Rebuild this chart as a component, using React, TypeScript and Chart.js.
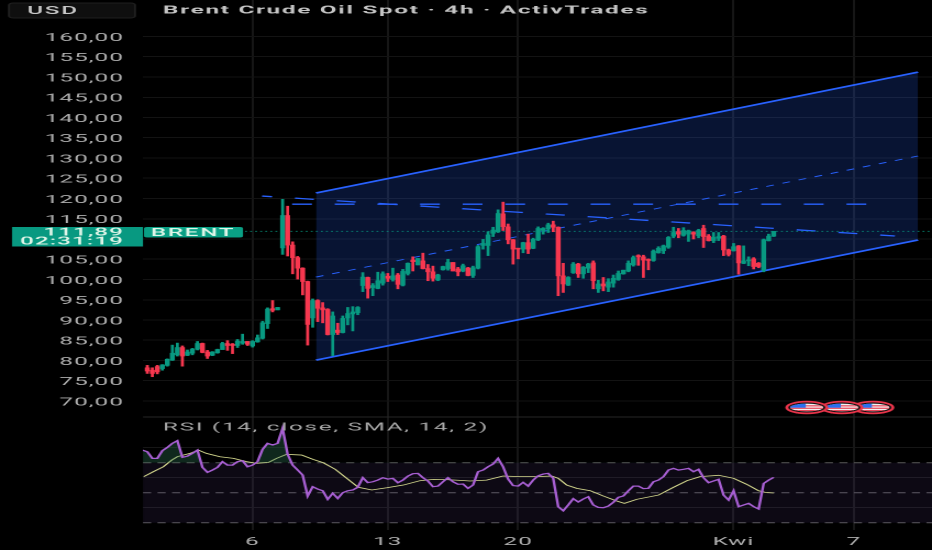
import React, { useEffect, useRef } from "react";
import { Chart, registerables } from "chart.js";

Chart.register(...registerables);

// --- candles (index = 4h bar number)
const candleOpen = [
  78.2,77.6,78.5,78.0,78.8,80.1,81.4,83.2,81.3,81.8,
  82.8,84.2,82.1,81.3,81.9,82.7,84.2,84.0,83.7,84.3,
  84.7,83.6,84.6,85.5,89.1,92.8,92.5,107.8,115.8,108.5,
  105.4,102.8,99.5,90.5,94.8,93.0,92.6,86.4,87.5,86.9,
  90.5,91.5,91.8,98.5,100.5,98.0,97.8,99.1,100.8,100.0,
  101.1,98.6,101.5,104.8,103.6,104.6,102.7,101.9,99.9,102.4,
  102.7,104.2,102.6,102.1,102.8,101.0,102.8,108.4,108.4,111.4,
  111.8,116.2,113.0,109.8,107.7,107.5,109.1,107.7,109.8,112.1,
  112.5,113.5,112.9,100.9,98.6,101.7,103.8,101.4,102.8,104.1,
  97.7,98.9,98.1,99.1,100.0,101.4,102.1,103.6,105.9,105.6,
  104.9,104.7,106.6,107.1,108.0,110.7,111.8,110.9,111.2,111.6,
  110.8,112.6,110.7,109.6,110.2,110.7,107.3,107.1,108.3,104.0,
  104.6,105.1,104.0,102.3,109.6,110.7,
];
const candleHigh = [
  78.8,78.2,78.8,79.0,80.4,83.8,84.3,83.6,82.6,83.0,
  84.7,84.3,82.5,82.2,82.8,84.5,84.9,84.2,85.2,86.5,
  84.7,84.9,86.3,89.7,93.0,94.8,93.1,119.8,118.1,109.3,
  105.7,102.9,99.6,95.2,95.0,94.3,92.8,92.0,89.2,91.0,
  93.1,93.3,93.3,101.7,100.6,99.0,101.8,101.9,101.5,102.8,
  101.5,102.5,104.1,105.6,105.2,106.5,103.7,103.3,101.3,103.3,
  105.0,104.2,103.0,103.8,103.0,103.3,108.4,109.9,111.8,112.9,
  117.2,119.1,113.7,109.9,107.7,109.2,111.2,110.2,113.0,112.8,
  113.9,114.4,113.0,104.0,100.7,104.2,104.0,103.2,104.0,104.6,
  99.8,100.5,100.2,101.1,102.1,102.3,104.6,105.8,106.1,106.0,
  105.1,107.3,108.1,108.5,110.6,112.9,112.6,112.8,112.2,111.8,
  112.4,113.4,111.1,111.6,111.6,110.9,107.5,108.9,108.4,108.3,
  105.6,105.4,104.2,110.0,111.2,111.9,
];
const candleLow = [
  76.8,76.0,76.7,77.6,78.6,80.0,81.1,78.6,81.2,81.4,
  82.6,81.9,80.5,81.2,81.8,82.7,82.5,81.7,83.2,84.0,
  83.7,83.3,84.5,85.3,87.9,92.0,92.5,106.2,105.8,101.4,
  100.1,96.2,83.8,88.2,89.6,89.3,86.3,81.2,86.4,86.8,
  88.8,87.3,91.3,97.0,95.4,96.0,97.7,98.6,99.5,99.6,
  97.7,98.4,101.1,102.1,103.6,102.6,99.7,99.6,99.7,102.3,
  102.3,102.1,100.9,101.9,100.9,100.5,102.6,107.5,105.9,110.6,
  111.6,112.1,108.8,103.8,105.1,106.6,106.4,107.6,109.6,111.2,
  111.6,111.8,96.0,96.8,98.5,101.5,100.5,100.3,101.7,97.7,
  96.8,97.2,97.0,98.1,99.8,101.3,101.9,103.3,103.5,100.5,
  102.4,104.5,106.5,106.4,107.7,110.3,110.3,110.7,109.4,110.0,
  110.3,107.9,109.5,109.1,109.6,105.9,105.8,107.0,101.3,103.9,
  103.4,102.6,102.9,101.9,109.5,110.6,
];
const candleClose = [
  77.4,76.8,77.2,78.9,80.3,81.8,83.2,81.1,82.1,82.8,
  84.2,82.0,81.1,82.1,82.7,84.2,83.7,83.7,84.8,84.7,
  84.0,84.7,85.6,89.3,92.7,92.4,93.1,115.8,108.5,105.4,
  102.8,99.5,88.9,94.8,92.9,92.5,86.4,91.0,86.9,90.4,
  91.6,92.0,93.1,100.6,97.8,98.5,99.7,101.4,100.3,100.9,
  98.8,102.0,104.0,104.4,105.2,102.7,101.9,100.3,101.1,103.2,
  104.2,102.1,101.9,103.4,101.0,102.9,108.1,108.9,111.0,112.2,
  116.3,113.05,109.8,107.5,107.5,109.1,107.5,109.9,112.6,112.6,
  113.5,112.9,100.9,98.9,100.5,103.8,101.4,103.0,103.8,99.7,
  98.9,98.4,99.4,100.3,101.5,102.3,104.0,105.4,105.6,104.8,
  104.7,107.0,107.7,108.3,110.4,111.6,111.2,112.1,112.0,111.2,
  112.1,110.6,109.6,110.4,110.6,107.3,106.2,108.1,104.1,104.6,
  104.8,103.2,103.2,109.8,110.7,111.89,
];

// --- RSI pane (first value sits one bar left of candle 0)
const rsiValues = [78.4,77.3,72.9,72.9,78,80.2,82.9,84.7,73.6,74.4,76.2,78.4,66.9,63.6,65.1,66.9,70.7,68.4,68.4,70.7,71.3,67.3,68.4,70.7,78.9,82.9,81.8,82.9,92.9,75.6,68.4,65.1,61.8,47.8,54,52.4,51.3,45.6,49.6,46.2,50,51.3,51.8,53.6,60,56.7,57.3,58.4,60,59.1,59.6,56.7,58.4,61.1,62.7,62.9,60,57.8,54,54.4,57.3,60,57.3,55.6,55.8,52.9,55.1,64,65.1,67.3,69.1,72.9,67.3,59.1,54.7,54.4,56.9,54.4,58.4,61.3,62.4,62.9,59.6,40.7,38,41.8,46,43.8,45.8,47.3,41.8,40.2,40,41.1,43.6,46.9,47.8,51.3,54.4,54.4,52.7,52.9,57.3,58.4,60.7,65.1,66.2,65.1,65.6,66.2,64,65.6,60,56.7,57.8,58.9,48.4,45.1,51.3,40.7,41.8,42.9,40.7,39.1,56.2,58.4,60.2];
const smaIndex = [-0.7,1.2,3.2,4.9,6,8.5,10.2,11.8,14.5,17.2,19.8,21.8,24.2,25.8,27.8,30.8,33.1,35.1,37.5,39.8,42.1,44.8,47.8,51.1,54.4,57.1,59.7,62.4,64.4,67.7,71,74.4,77.7,80.7,82,83.7,85.7,88.4,91,93.7,95.2,97.7,102,105,107.7,110.3,114,117,119.6,122,123.3,125];
const smaValues = [60.7,64,67.3,71.8,74,76.2,78.4,76.2,74,72.9,70.7,69.6,70.2,72.9,75.6,75.1,72.2,70,65.6,59.6,53.6,51.8,53.3,55.1,58,58.9,58.7,58.2,57.8,58.4,61.1,60.7,60.7,61.1,59.6,55.1,52.9,51.3,47.8,44.4,42.9,45.6,48.4,53.6,58,60.7,61.6,59.6,55.6,51.3,50.2,49.8];
const rsiLevels = [70, 50, 30];
const rsiGridValues = [80, 60, 40];
const paneSeparator = 100.6;

// --- drawings: [bar index, price]
const channelIndex = [33.67, 153.8];
const channelUpper = [121.36, 151.2];
const channelMiddle = [100.6, 130.5];
const channelLower = [80.1, 109.75];
const fallingIndex = [22.9, 149.2];
const fallingPrice = [120.6, 110.74];
const flatIndex = [28.9, 143.5];
const flatPrice = [118.6, 118.6];

// --- axes
const priceTicks = [160,155,150,145,140,135,130,125,120,115,110,105,100,95,90,85,80,75,70];
const timeTickIndex = [21, 48, 74, 117, 141];
const timeTickLabels = ["6", "13", "20", "Kwi", "7"];
const flagIndex = [144.8, 138.6, 131.6];

// --- text
const titleText = "Brent Crude Oil Spot · 4h · ActivTrades";
const rsiTitle = "RSI (14, close, SMA, 14, 2)";
const currencyText = "USD";
const symbolText = "BRENT";
const priceText = "111,89";
const countdownText = "02:31:19";

const LOGICAL_W = 424;
const S = 932 / LOGICAL_W;
const GREEN = "#089981";
const RED = "#f7374f";
const BLUE = "#2962ff";
const AXIS_MIN = (143 - 147.3) / 5.011;
const AXIS_MAX = (932 - 147.3) / 5.011;

const X = (px: number) => px / S;
const noPadding = (s: any) => {
  s.paddingTop = 0;
  s.paddingBottom = 0;
  s.paddingLeft = 0;
  s.paddingRight = 0;
};

const overlay = {
  id: "overlay",
  beforeDraw(chart: any) {
    chart.ctx.letterSpacing = "0.5px";
  },
  afterDraw(chart: any) {
    const { ctx } = chart;
    const xs = chart.scales.x;
    ctx.save();
    ctx.textBaseline = "middle";

    // USD button
    ctx.fillStyle = "#0f0f0f";
    ctx.strokeStyle = "#1f1f1f";
    ctx.lineWidth = 1;
    ctx.beginPath();
    ctx.roundRect(X(9), 3, X(126), 15, 2);
    ctx.fill();
    ctx.stroke();
    ctx.fillStyle = "#c8c8c8";
    ctx.letterSpacing = "0.8px";
    ctx.font = "500 11px Roboto";
    ctx.textAlign = "center";
    ctx.fillText(currencyText, X(53), 11);

    // Title
    ctx.textAlign = "left";
    ctx.font = "700 11px Roboto";
    ctx.fillStyle = "#c4c4c4";
    ctx.fillText(titleText, X(163), 10.5);

    // RSI title
    ctx.font = "400 11px Roboto";
    ctx.fillStyle = "#a8a8a8";
    ctx.fillText(rsiTitle, X(163), 427.5);

    // Price tag + symbol tag
    ctx.fillStyle = GREEN;
    ctx.fillRect(X(12), 227, X(131), 19.5);
    ctx.fillStyle = "#0aa085";
    ctx.beginPath();
    ctx.roundRect(X(144), 227, X(99), 10.5, 1.5);
    ctx.fill();
    ctx.fillStyle = "#dff5e8";
    ctx.textAlign = "center";
    ctx.font = "500 11px Roboto";
    ctx.fillText(symbolText, X(193), 233);
    ctx.textAlign = "right";
    ctx.letterSpacing = "0.5px";
    ctx.fillText(priceText, X(124), 232.5);
    ctx.fillText(countdownText, X(124), 241.5);

    // Event flags
    flagIndex.forEach((idx) => {
      const cx = xs.getPixelForValue(idx);
      const cy = 407.5;
      const draw = (rx: number, ry: number) => {
        ctx.beginPath();
        ctx.ellipse(cx, cy, rx, ry, 0, 0, Math.PI * 2);
      };
      draw(X(21.5), 6.7);
      ctx.fillStyle = "#e8344a";
      ctx.fill();
      draw(X(18.5), 5);
      ctx.fillStyle = "#101010";
      ctx.fill();
      draw(X(16.5), 3.9);
      ctx.fillStyle = "#f2f2f2";
      ctx.fill();
      ctx.save();
      draw(X(16.5), 3.9);
      ctx.clip();
      ctx.fillStyle = "#e8344a";
      ctx.fillRect(cx - X(17), cy - 2.2, X(34), 1.1);
      ctx.fillRect(cx - X(17), cy + 0.2, X(34), 1.1);
      ctx.fillRect(cx - X(17), cy + 2.6, X(34), 1.1);
      ctx.fillStyle = "#2a6ef0";
      ctx.fillRect(cx - X(17), cy - 5, X(16), 5.2);
      ctx.restore();
    });
    ctx.restore();
  },
};

export default function App() {
  const ref = useRef<HTMLCanvasElement | null>(null);

  useEffect(() => {
    if (!ref.current) return;
    const colors = candleClose.map((c, i) => (c >= candleOpen[i] ? GREEN : RED));
    const lastPrice = candleClose[candleClose.length - 1];

    const line = (extra: any) => ({
      type: "line",
      pointRadius: 0,
      tension: 0,
      yAxisID: "y",
      fill: false,
      ...extra,
    });

    const chart = new Chart(ref.current, {
      type: "bar",
      data: {
        datasets: [
          line({
            label: "Channel upper",
            data: channelIndex.map((x, i) => ({ x, y: channelUpper[i] })),
            borderColor: BLUE,
            borderWidth: 1.6,
            fill: "+1",
            backgroundColor: "rgba(41,98,255,0.2)",
            order: 10,
          }),
          line({
            label: "Channel lower",
            data: channelIndex.map((x, i) => ({ x, y: channelLower[i] })),
            borderColor: BLUE,
            borderWidth: 1.6,
            order: 9,
          }),
          line({
            label: "Channel middle",
            data: channelIndex.map((x, i) => ({ x, y: channelMiddle[i] })),
            borderColor: BLUE,
            borderWidth: 0.9,
            borderDash: [3.7, 4.3],
            order: 8,
          }),
          line({
            label: "Falling",
            data: fallingIndex.map((x, i) => ({ x, y: fallingPrice[i] })),
            borderColor: BLUE,
            borderWidth: 1.3,
            borderDash: [8.7, 10.5],
            borderDashOffset: 4.1,
            order: 8,
          }),
          line({
            label: "Flat",
            data: flatIndex.map((x, i) => ({ x, y: flatPrice[i] })),
            borderColor: BLUE,
            borderWidth: 1.3,
            borderDash: [9, 10.4],
            order: 8,
          }),
          line({
            label: "Last price",
            data: [
              { x: 19.5, y: lastPrice },
              { x: AXIS_MAX, y: lastPrice },
            ],
            borderColor: "rgba(8,153,129,0.75)",
            borderWidth: 1,
            borderDash: [0.9, 1.4],
            order: 3,
          }),
          {
            type: "bar",
            label: "Wicks",
            data: candleHigh.map((h, i) => ({ x: i, y: [candleLow[i], h] })),
            backgroundColor: colors,
            barThickness: 0.7,
            grouped: false,
            yAxisID: "y",
            order: 2,
          },
          {
            type: "bar",
            label: "Bodies",
            data: candleOpen.map((o, i) => ({ x: i, y: [o, candleClose[i]] })),
            backgroundColor: colors,
            barThickness: 1.6,
            minBarLength: 1,
            grouped: false,
            yAxisID: "y",
            order: 1,
          },
          line({
            label: "RSI band top",
            yAxisID: "rsi",
            data: [
              { x: AXIS_MIN, y: rsiLevels[0] },
              { x: AXIS_MAX, y: rsiLevels[0] },
            ],
            borderColor: "#5a5a5a",
            borderWidth: 1,
            borderDash: [3.7, 2.9],
            fill: { target: { value: rsiLevels[2] }, above: "rgba(126,87,194,0.1)", below: "rgba(126,87,194,0.1)" },
            order: 7,
          }),
          ...rsiLevels.slice(1).map((level) =>
            line({
              label: "RSI level " + level,
              yAxisID: "rsi",
              data: [
                { x: AXIS_MIN, y: level },
                { x: AXIS_MAX, y: level },
              ],
              borderColor: "#5a5a5a",
              borderWidth: 1,
              borderDash: [3.7, 2.9],
              order: 7,
            }),
          ),
          line({
            label: "RSI MA",
            yAxisID: "rsi",
            data: smaIndex.map((x, i) => ({ x, y: smaValues[i] })),
            borderColor: "#d4d88e",
            borderWidth: 0.8,
            order: 5,
          }),
          line({
            label: "RSI",
            yAxisID: "rsi",
            data: rsiValues.map((y, i) => ({ x: i - 1, y })),
            borderColor: "#a75fd2",
            borderWidth: 1.2,
            fill: { target: { value: rsiLevels[0] }, above: "rgba(46,125,90,0.32)", below: "rgba(0,0,0,0)" },
            order: 4,
          }),
        ] as any,
      },
      options: {
        responsive: false,
        maintainAspectRatio: false,
        animation: false,
        devicePixelRatio: 2,
        layout: { padding: 0, autoPadding: false },
        plugins: { legend: { display: false }, tooltip: { enabled: false }, title: { display: false } },
        scales: {
          x: {
            type: "linear",
            offset: false,
            min: AXIS_MIN,
            max: AXIS_MAX,
            afterBuildTicks: (s: any) => {
              s.ticks = timeTickIndex.map((value) => ({ value }));
            },
            afterFit: (s: any) => {
              s.height = 20;
              noPadding(s);
            },
            grid: { offset: false, color: "#161616", drawTicks: false },
            border: { display: false },
            ticks: {
              autoSkip: false,
              maxRotation: 0,
              padding: 5.5,
              color: "#aeaeae",
              font: { family: "Roboto", size: 11, weight: 400 },
              callback: (v: any) => timeTickLabels[timeTickIndex.indexOf(Number(v))] ?? "",
            },
          },
          y: {
            position: "left",
            min: 160 - (530 - 36.5) / 4.05,
            max: 160 + 36.5 / 4.05,
            beginAtZero: false,
            afterBuildTicks: (s: any) => {
              s.ticks = priceTicks.map((value) => ({ value }));
            },
            afterFit: (s: any) => {
              s.width = X(143);
              noPadding(s);
            },
            grid: { color: "#131313", drawTicks: false },
            border: { display: false },
            ticks: {
              autoSkip: false,
              padding: X(19),
              color: "#aeaeae",
              font: { family: "Roboto", size: 11, weight: 400, lineHeight: 0.3 },
              callback: (v: any) => ["", Number(v).toFixed(2).replace(".", ",")],
            },
          },
          rsi: {
            axis: "y",
            position: "right",
            min: 70 - (530 - 462.7) / 1.5,
            max: 70 + 462.7 / 1.5,
            afterBuildTicks: (s: any) => {
              s.ticks = [...rsiGridValues, paneSeparator].map((value) => ({ value }));
            },
            afterFit: (s: any) => {
              s.width = 0;
              noPadding(s);
            },
            grid: {
              drawTicks: false,
              color: (c: any) => (c.tick && c.tick.value === paneSeparator ? "#262626" : "#161616"),
            },
            border: { display: false },
            ticks: { display: false },
          },
        } as any,
      },
      plugins: [overlay],
    } as any);
    return () => chart.destroy();
  }, []);

  return (
    <div
      style={{
        position: "fixed",
        left: 0,
        top: 0,
        width: 932,
        height: 550,
        background: "#000",
        overflow: "hidden",
      }}
    >
      <canvas
        ref={ref}
        width={LOGICAL_W}
        height={550}
        style={{ display: "block", transform: `scaleX(${S})`, transformOrigin: "0 0" }}
      />
    </div>
  );
}
